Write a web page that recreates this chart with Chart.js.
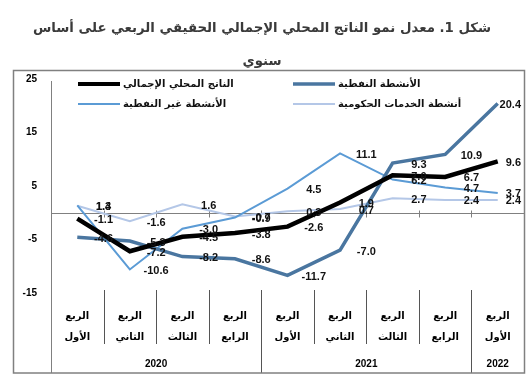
<!DOCTYPE html>
<html><head><meta charset="utf-8">
<script src="https://cdn.jsdelivr.net/npm/chart.js@4"></script>
<style>html,body{margin:0;padding:0;background:#fff}#wrap{width:532px;height:386px;position:relative}</style>
</head><body><div id="wrap"><canvas id="c" width="532" height="386"></canvas></div>
<script>
// ---- data ----
const quarterLabels = [["الربع","الأول"],["الربع","الثاني"],["الربع","الثالث"],["الربع","الرابع"],["الربع","الأول"],["الربع","الثاني"],["الربع","الثالث"],["الربع","الرابع"],["الربع","الأول"]];
const years = ["2020","2021","2022"];
const yearSpans = [4,4,1];
const gdp    = [-1.1,-7.2,-4.5,-3.8,-2.6,1.9,7.0,6.7,9.6];
const oil    = [-4.6,-5.3,-8.2,-8.6,-11.7,-7.0,9.3,10.9,20.4];
const nonOil = [1.4,-10.6,-3.0,-0.9,4.5,11.1,6.2,4.7,3.7];
const gov    = [1.3,-1.6,1.6,-0.7,0.3,0.7,2.7,2.4,2.4];
const seriesNames = ["الناتج المحلي الإجمالي","الأنشطة النفطية","الأنشطة غير النفطية","أنشطة الخدمات الحكومية"];
const titleLines = ["شكل 1. معدل نمو الناتج المحلي الإجمالي الحقيقي الربعي على أساس","سنوي"];
const yMin = -15, yMax = 25, yStep = 10;

const FONT = '"DejaVu Sans", "Noto Sans", sans-serif';
const NUMFONT = '"Liberation Sans", Arial, sans-serif';

const styles = [
  {color:'#000000', width:4.5},
  {color:'#4a76a0', width:3.5},
  {color:'#5b9bd5', width:2},
  {color:'#b4c7e7', width:2}
];
const values = [gdp, oil, nonOil, gov];

const structure = {
  id:'structure',
  beforeDatasetsDraw(chart){
    const {ctx, chartArea:a, scales:{x,y}} = chart;
    const cat = (a.right - a.left)/quarterLabels.length;
    ctx.save();
    ctx.strokeStyle = '#808080';
    ctx.lineWidth = 1;
    const y0 = Math.round(y.getPixelForValue(0)) + 0.5;
    ctx.beginPath();
    ctx.moveTo(a.left, y0); ctx.lineTo(a.right, y0);
    for (let i=1;i<quarterLabels.length;i++){
      const bx = Math.round(a.left + i*cat)+0.5;
      ctx.moveTo(bx, y0-3); ctx.lineTo(bx, y0+4);
    }
    ctx.stroke();
    // y axis line
    ctx.beginPath();
    ctx.moveTo(Math.round(a.left)+0.5, a.top+2); ctx.lineTo(Math.round(a.left)+0.5, 373);
    ctx.stroke();
    // separators
    ctx.strokeStyle = '#555';
    ctx.beginPath();
    let acc = 0; const yb = new Set();
    yearSpans.forEach(s=>{acc+=s; yb.add(acc);});
    for (let i=1;i<quarterLabels.length;i++){
      const bx = Math.round(a.left + i*cat)+0.5;
      ctx.moveTo(bx, a.bottom-3);
      ctx.lineTo(bx, yb.has(i) ? 373 : 344);
    }
    ctx.stroke();
    // frame
    ctx.strokeStyle = '#808080';
    ctx.lineWidth = 1.5;
    ctx.strokeRect(13.5, 70.5, 511, 302.5);
    // year labels
    ctx.fillStyle = '#000';
    ctx.font = 'bold 10px ' + NUMFONT;
    ctx.textAlign = 'center'; ctx.textBaseline = 'middle';
    let start = 0;
    years.forEach((yr,k)=>{
      const l = a.left + start*cat, r = a.left + (start+yearSpans[k])*cat;
      ctx.fillText(yr, (l+r)/2, 364);
      start += yearSpans[k];
    });
    ctx.restore();
  },
  afterDatasetsDraw(chart){
    const {ctx, chartArea:a} = chart;
    const cat = (a.right - a.left)/quarterLabels.length;
    ctx.save();
    ctx.font = 'bold 11px ' + NUMFONT;
    ctx.fillStyle = '#111';
    ctx.textAlign = 'center'; ctx.textBaseline = 'middle';
    chart.data.datasets.forEach((ds, di)=>{
      const meta = chart.getDatasetMeta(di);
      meta.data.forEach((pt, i)=>{
        const t = ds.data[i].toFixed(1);
        const w = ctx.measureText(t).width;
        let lx = Math.min(pt.x + cat/2, a.right - w/2 - 3);
        ctx.fillText(t, lx, pt.y + 1.5);
      });
    });
    ctx.restore();
  },
  afterDraw(chart){
    const {ctx} = chart;
    ctx.save();
    const pos = [[78,84],[293,84],[78,104],[293,104]];
    ctx.font = 'bold 10px ' + FONT;
    ctx.fillStyle = '#111';
    ctx.textAlign = 'left'; ctx.textBaseline = 'middle';
    chart.data.datasets.forEach((ds, di)=>{
      const [lx, ly] = pos[di];
      ctx.strokeStyle = ds.borderColor;
      ctx.lineWidth = Math.min(ds.borderWidth, 4);
      ctx.beginPath(); ctx.moveTo(lx, ly); ctx.lineTo(lx+42, ly); ctx.stroke();
      ctx.fillText(ds.label, lx+45, ly);
    });
    ctx.restore();
  }
};

new Chart(document.getElementById('c'), {
  type:'line',
  data:{
    labels: quarterLabels,
    datasets: values.map((v,i)=>({
      label: seriesNames[i], data: v,
      borderColor: styles[i].color, backgroundColor: styles[i].color,
      borderWidth: styles[i].width, pointRadius:0, tension:0, fill:false,
      borderCapStyle:'butt', borderJoinStyle:'miter'
    }))
  },
  options:{
    responsive:false, animation:false, devicePixelRatio:1,
    layout:{padding:{left:0,right:8,top:0,bottom:0}},
    plugins:{
      legend:{display:false}, tooltip:{enabled:false},
      title:{display:true, text:titleLines, color:'#3a3a3a',
        font:{family:FONT, size:13.3, weight:'bold', lineHeight:'33px'},
        padding:{top:12,bottom:1}}
    },
    scales:{
      x:{type:'category', offset:true,
        grid:{display:false}, border:{display:false},
        ticks:{font:{family:FONT,size:10,weight:'bold', lineHeight:'21px'}, color:'#000', padding:5, maxRotation:0, autoSkip:false},
        afterFit(s){ s.height = 93; }
      },
      y:{min:yMin, max:yMax,
        grid:{display:false}, border:{display:false},
        ticks:{stepSize:yStep, font:{family:NUMFONT,size:10,weight:'bold'}, color:'#000', padding:6},
        afterFit(s){ s.width = 51; }
      }
    }
  },
  plugins:[structure]
});
</script></body></html>
